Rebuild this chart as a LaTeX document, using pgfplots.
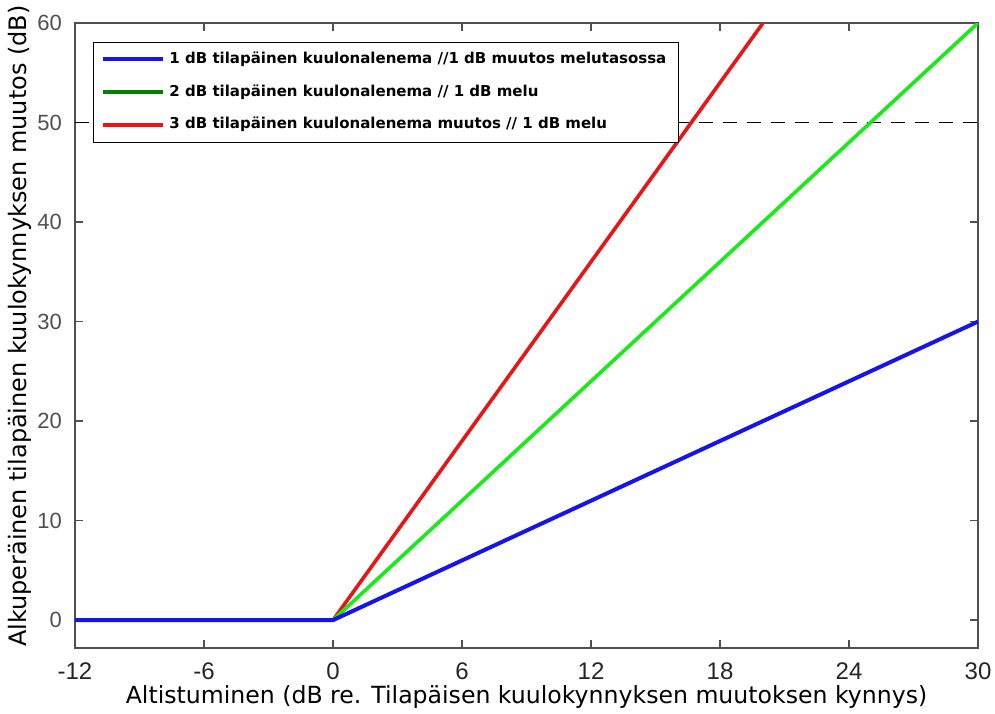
\documentclass[border=0pt]{standalone}
\usepackage{fontspec}
\setmainfont{Liberation Sans}
\newfontfamily\lgfont{DejaVu Sans}
\usepackage{graphicx}
\usepackage{pgfplots}
\pgfplotsset{compat=1.18}

\definecolor{axgray}{RGB}{80,80,80}
\definecolor{lblue}{RGB}{20,20,235}
\definecolor{lgreen}{RGB}{25,235,25}
\definecolor{lred}{RGB}{235,20,20}
\definecolor{dgreen}{RGB}{0,128,0}

\begin{document}
\begin{tikzpicture}
\begin{axis}[
    at={(0,0)}, anchor=south west,
    scale only axis, width=451.5pt, height=312.5pt,
    xmin=-12, xmax=30, ymin=-2.8, ymax=60,
    xtick={-12,-6,...,30}, ytick={0,10,...,60},
    tick align=inside, major tick length=4pt,
    axis line style={axgray, line width=0.7pt},
    every tick/.style={axgray, line width=0.7pt},
    /pgf/number format/assume math mode=true,
    xticklabel style={font=\fontsize{12}{14}\selectfont, text=black!85, yshift=-4pt},
    yticklabel style={font=\fontsize{11}{13}\selectfont, text=axgray, xshift=-3pt},
    xlabel={Altistuminen (dB re. Tilapäisen kuulokynnyksen muutoksen kynnys)},
    xlabel style={font=\lgfont\fontsize{11.8}{14}\selectfont, at={(rel axis cs:0.5,0)}, anchor=base, yshift=-27.5pt},
    ylabel={Alkuperäinen tilapäinen kuulokynnyksen muutos (dB)},
    ylabel style={font=\lgfont\fontsize{12}{14}\selectfont, at={(rel axis cs:-0.0532,0.515)}, anchor=base},
    legend cell align=left,
    legend style={at={(rel axis cs:0.02,0.97)}, anchor=north west, draw=black, fill=white,
        font=\fontsize{7.5}{9}\selectfont\lgfont\bfseries, row sep=5pt, inner xsep=4pt, inner ysep=3pt},
    legend image code/.code={\draw[#1] (0pt,0pt) -- (30pt,0pt);},
]
\addplot[black, line width=0.7pt, dash pattern=on 7pt off 5pt, forget plot] coordinates {(-12,50) (30,50)};
\addplot[lred, line width=1.8pt, forget plot] coordinates {(0,0) (20,60)};
\addplot[lgreen, line width=1.8pt, forget plot] coordinates {(0,0) (30,60)};
\addplot[lblue, line width=2pt, forget plot] coordinates {(-12,0) (0,0) (30,30)};
\addlegendimage{lblue, line width=2pt}
\addlegendentry{1 dB tilapäinen kuulonalenema //1 dB muutos melutasossa}
\addlegendimage{dgreen, line width=2pt}
\addlegendentry{2 dB tilapäinen kuulonalenema // 1 dB melu}
\addlegendimage{lred, line width=2pt}
\addlegendentry{3 dB tilapäinen kuulonalenema muutos // 1 dB melu}
\end{axis}
\pgfresetboundingbox
\path (-37.5pt,-32.5pt) rectangle (460pt,324pt);
\end{tikzpicture}
\end{document}
